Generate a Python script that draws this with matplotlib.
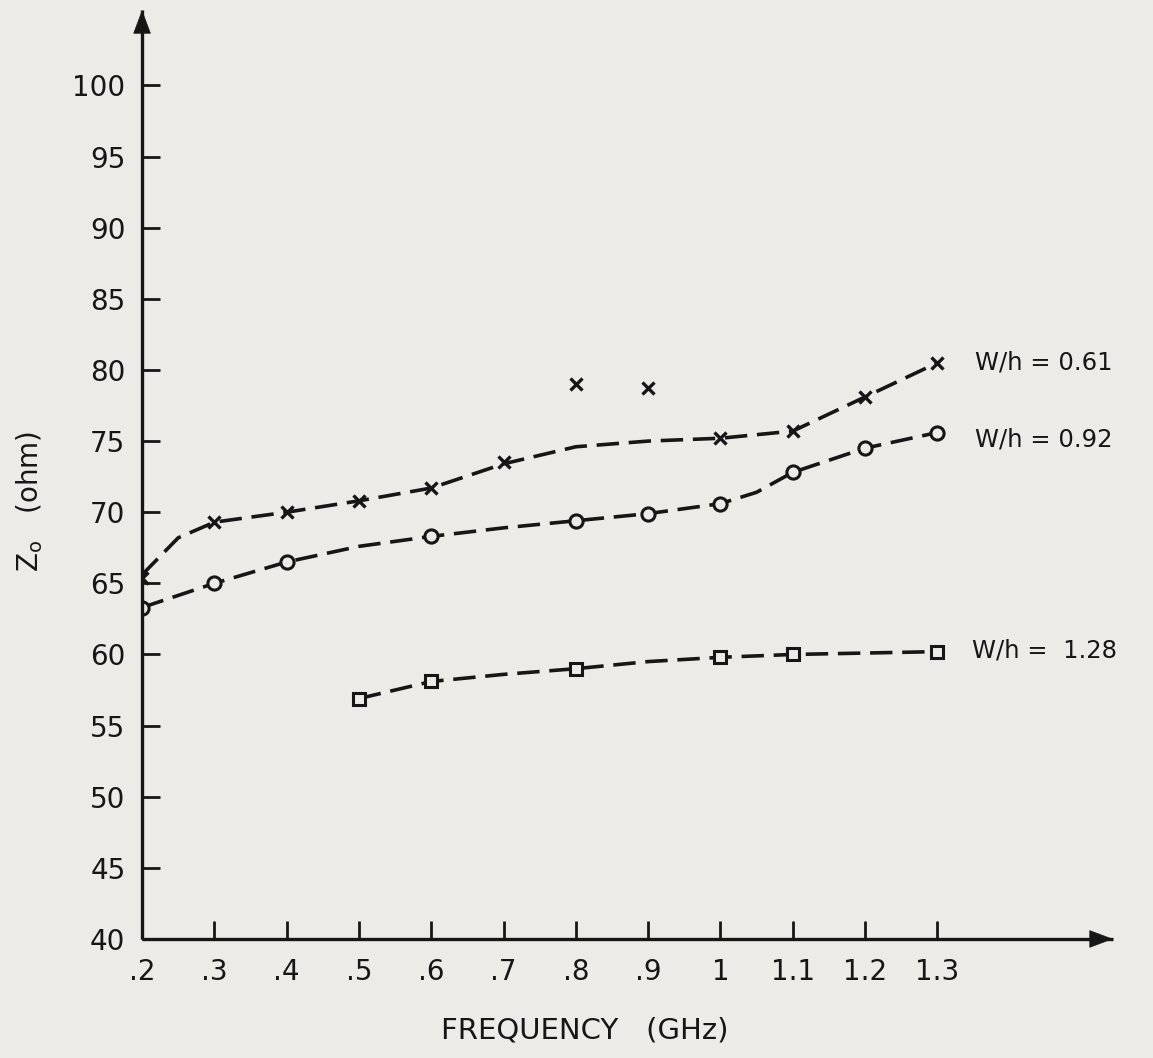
import matplotlib.pyplot as plt

# data
# W/h = 0.61 (x markers), incl. the two stray points at .8 and .9
freq_061 = [0.2, 0.3, 0.4, 0.5, 0.6, 0.7, 0.8, 0.9, 1.0, 1.1, 1.2, 1.3]
z_061 = [65.4, 69.3, 70.0, 70.8, 71.7, 73.5, 79.0, 78.7, 75.2, 75.7, 78.1, 80.5]
# hand drawn dashed curve for 0.61
curve_f_061 = [0.2, 0.25, 0.3, 0.4, 0.5, 0.6, 0.7, 0.8, 0.9, 1.0, 1.1, 1.2, 1.3]
curve_z_061 = [65.6, 68.2, 69.3, 70.0, 70.8, 71.7, 73.4, 74.6, 75.0, 75.2, 75.7, 78.1, 80.5]

# W/h = 0.92 (circles)
freq_092 = [0.2, 0.3, 0.4, 0.6, 0.8, 0.9, 1.0, 1.1, 1.2, 1.3]
z_092 = [63.3, 65.0, 66.5, 68.3, 69.4, 69.9, 70.6, 72.8, 74.5, 75.6]
curve_f_092 = [0.2, 0.3, 0.4, 0.5, 0.6, 0.7, 0.8, 0.9, 1.0, 1.05, 1.1, 1.2, 1.3]
curve_z_092 = [63.3, 65.0, 66.5, 67.6, 68.3, 68.9, 69.4, 69.9, 70.6, 71.4, 72.8, 74.5, 75.6]

# W/h = 1.28 (squares)
freq_128 = [0.5, 0.6, 0.8, 1.0, 1.1, 1.3]
z_128 = [56.9, 58.1, 59.0, 59.8, 60.0, 60.2]
curve_f_128 = [0.5, 0.6, 0.7, 0.8, 0.9, 1.0, 1.1, 1.2, 1.3]
curve_z_128 = [56.9, 58.1, 58.6, 59.0, 59.5, 59.8, 60.0, 60.1, 60.2]

x_ticks = [0.2, 0.3, 0.4, 0.5, 0.6, 0.7, 0.8, 0.9, 1.0, 1.1, 1.2, 1.3]
x_labels = ['.2', '.3', '.4', '.5', '.6', '.7', '.8', '.9', '1', '1.1', '1.2', '1.3']
y_ticks = [40, 45, 50, 55, 60, 65, 70, 75, 80, 85, 90, 95, 100]

curve_labels = ['W/h = 0.61', 'W/h = 0.92', 'W/h =  1.28']
label_pos = [(1.352, 80.5), (1.352, 75.1), (1.348, 60.3)]

ink = '#161616'
paper = '#ecebe8'
plt.rcParams['font.family'] = ['DejaVu Sans']

fig = plt.figure(figsize=(11.53, 10.58), dpi=100, facecolor=paper)
ax = fig.add_axes([0.1232, 0.1125, 0.8421, 0.878])
ax.set_facecolor(paper)

lw = 2.6
dash = (0, (6.2, 2.7))
ax.plot(curve_f_061, curve_z_061, color=ink, lw=lw, ls=dash)
ax.plot(curve_f_092, curve_z_092, color=ink, lw=lw, ls=dash)
ax.plot(curve_f_128, curve_z_128, color=ink, lw=lw, ls=dash)

ax.plot(freq_061, z_061, 'x', color=ink, ms=9, mew=2.4)
ax.plot(freq_092, z_092, 'o', color=ink, mfc=paper, ms=9.5, mew=2.2)
ax.plot(freq_128, z_128, 's', color=ink, mfc=paper, ms=8.5, mew=2.2)

for txt, (lx, ly) in zip(curve_labels, label_pos):
    ax.text(lx, ly, txt, fontsize=17.5, color=ink, va='center', ha='left')

ax.set_xlim(0.2, 1.543)
ax.set_ylim(40, 105.3)
ax.set_xticks(x_ticks)
ax.set_xticklabels(x_labels)
ax.set_yticks(y_ticks)
ax.tick_params(direction='in', length=13, width=2.0, colors=ink,
               labelsize=20, pad=12)
ax.tick_params(axis='x', pad=14)

for side in ['top', 'right']:
    ax.spines[side].set_visible(False)
for side in ['left', 'bottom']:
    ax.spines[side].set_linewidth(2.4)
    ax.spines[side].set_color(ink)
    ax.spines[side].set_capstyle('butt')

# arrow heads on the axes, tip at the axes end
head = dict(arrowstyle='-|>,head_length=1.6,head_width=0.6', color=ink,
            lw=0.5, shrinkA=0, shrinkB=0)
ax.annotate('', xy=(1, 0), xycoords='axes fraction', xytext=(0.96, 0),
            arrowprops=head, annotation_clip=False)
ax.annotate('', xy=(0, 1), xycoords='axes fraction', xytext=(0, 0.96),
            arrowprops=head, annotation_clip=False)

fig.text(585 / 1153, 1 - 1030 / 1058, 'FREQUENCY   (GHz)', fontsize=21,
         color=ink, ha='center', va='center')
fig.text(30 / 1153, 1 - 501 / 1058, r'Z$_{\mathregular{o}}$   (ohm)', fontsize=20,
         color=ink, ha='center', va='center', rotation=90)

fig.savefig('out.png', dpi=100, facecolor=paper)
